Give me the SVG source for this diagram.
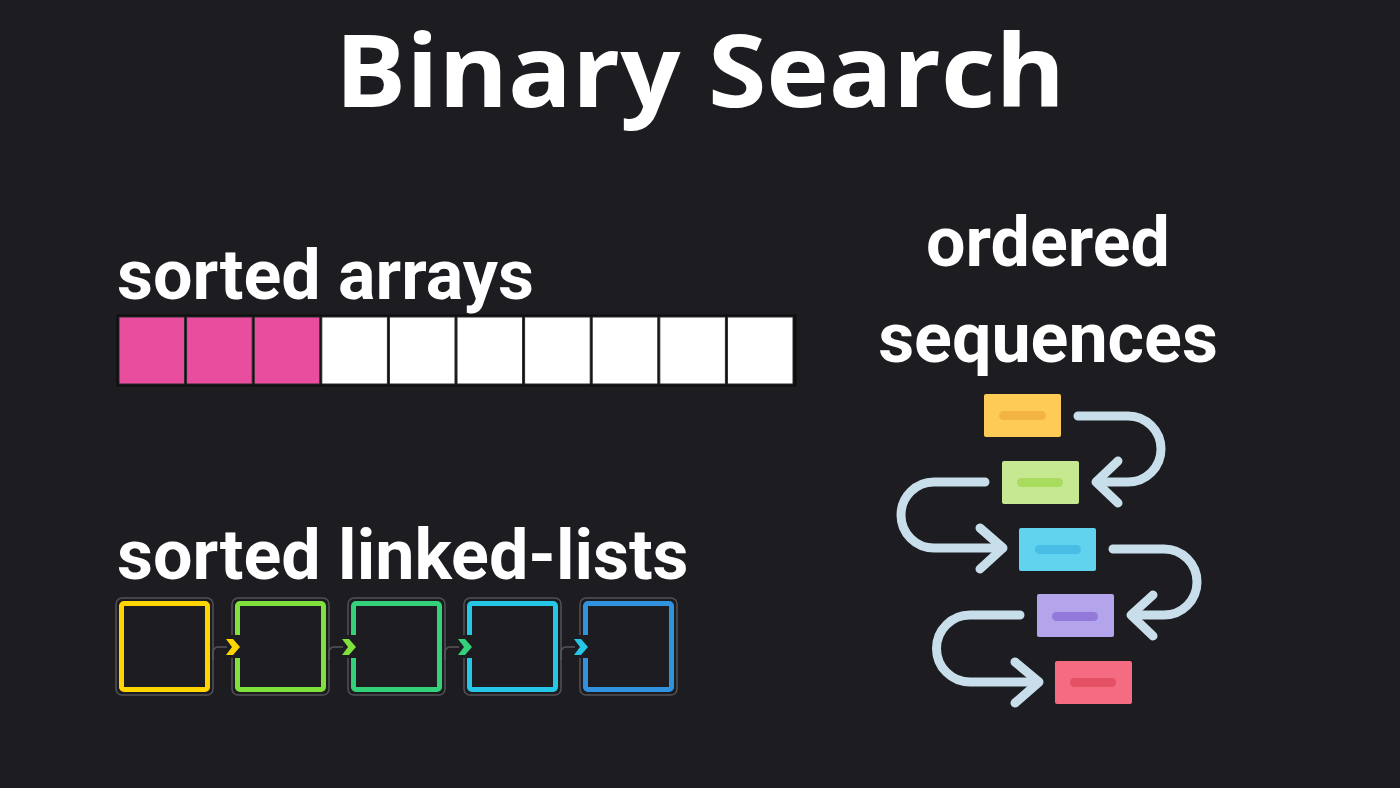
<svg xmlns="http://www.w3.org/2000/svg" width="1400" height="788" viewBox="0 0 1400 788">
<defs>
<style>
.title{font-family:"Open Sans","Liberation Sans",sans-serif;font-weight:700;fill:#fff}
.lbl{font-family:Roboto,"Liberation Sans",sans-serif;font-weight:700;font-size:70px;fill:#fff}
.cell{stroke:#2a2a2a;stroke-width:1}
.pink{fill:#e84e9d}
.white{fill:#ffffff}
.frame{fill:none;stroke:#505056;stroke-width:1.5}
.sq{fill:#1c1c21;stroke-width:5}
.gap{fill:#1c1c21}
.link{fill:none;stroke:#55555b;stroke-width:1.5}
.flow{fill:none;stroke:#c8dfeb;stroke-width:9;stroke-linecap:round;stroke-linejoin:round}
</style>
</defs>
<rect x="0" y="0" width="1400" height="788" fill="#1c1c21"/>
<g id="title"><text class="title" x="700" y="107" font-size="100" text-anchor="middle" textLength="730" lengthAdjust="spacingAndGlyphs">Binary Search</text></g>
<g id="label-arrays"><text class="lbl" x="117" y="299">sorted arrays</text></g>
<g id="label-lists"><text class="lbl" x="117" y="579">sorted linked-lists</text></g>
<g id="label-seq"><text class="lbl" x="1048" y="266" text-anchor="middle">ordered</text><text class="lbl" x="1048" y="362" text-anchor="middle">sequences</text></g>
<g id="array">
<rect x="116.5" y="314.5" width="680" height="72" fill="#0e0e10"/>
<rect class="cell pink" x="119" y="317" width="65.6" height="67"/>
<rect class="cell pink" x="186.6" y="317" width="65.6" height="67"/>
<rect class="cell pink" x="254.2" y="317" width="65.6" height="67"/>
<rect class="cell white" x="321.8" y="317" width="65.6" height="67"/>
<rect class="cell white" x="389.4" y="317" width="65.6" height="67"/>
<rect class="cell white" x="457" y="317" width="65.6" height="67"/>
<rect class="cell white" x="524.6" y="317" width="65.6" height="67"/>
<rect class="cell white" x="592.2" y="317" width="65.6" height="67"/>
<rect class="cell white" x="659.8" y="317" width="65.6" height="67"/>
<rect class="cell white" x="727.4" y="317" width="65.6" height="67"/>
</g>
<g id="list-node-1"><rect class="frame" x="116" y="598" width="97" height="97" rx="6"/><rect class="sq" x="121.5" y="603.5" width="86" height="86" rx="2.5" stroke="#ffd500"/></g>
<g id="list-node-2"><rect class="frame" x="232" y="598" width="97" height="97" rx="6"/><rect class="sq" x="237.5" y="603.5" width="86" height="86" rx="2.5" stroke="#80e03c"/><rect class="gap" x="229" y="635" width="12" height="23"/></g>
<g id="list-node-3"><rect class="frame" x="348" y="598" width="97" height="97" rx="6"/><rect class="sq" x="353.5" y="603.5" width="86" height="86" rx="2.5" stroke="#33d27a"/><rect class="gap" x="345" y="635" width="12" height="23"/></g>
<g id="list-node-4"><rect class="frame" x="464" y="598" width="97" height="97" rx="6"/><rect class="sq" x="469.5" y="603.5" width="86" height="86" rx="2.5" stroke="#25c6e6"/><rect class="gap" x="461" y="635" width="12" height="23"/></g>
<g id="list-node-5"><rect class="frame" x="580" y="598" width="97" height="97" rx="6"/><rect class="sq" x="585.5" y="603.5" width="86" height="86" rx="2.5" stroke="#3193e0"/><rect class="gap" x="577" y="635" width="12" height="23"/></g>
<g id="seq-node-1"><rect x="984" y="394" width="77" height="43" rx="2" fill="#ffcb57"/><rect x="999" y="411" width="47" height="9" rx="4.5" fill="#f2b442"/></g>
<g id="seq-node-2"><rect x="1002" y="461" width="77" height="43" rx="2" fill="#c6e891"/><rect x="1017" y="478" width="46" height="9" rx="4.5" fill="#a9dc5e"/></g>
<g id="seq-node-3"><rect x="1019" y="528" width="77" height="43" rx="2" fill="#62d3ef"/><rect x="1035" y="545" width="46" height="9" rx="4.5" fill="#48bde6"/></g>
<g id="seq-node-4"><rect x="1037" y="594" width="77" height="43" rx="2" fill="#b3a4ec"/><rect x="1052" y="612" width="46" height="9" rx="4.5" fill="#9279da"/></g>
<g id="seq-node-5"><rect x="1055" y="661" width="77" height="43" rx="2" fill="#f56b82"/><rect x="1070" y="678" width="46" height="9" rx="4.5" fill="#e45064"/></g>
<g id="connectors">
<path class="link" d="M213,660 V652 A5,5 0 0 1 218,647 H227"/>
<path class="link" d="M329,660 V652 A5,5 0 0 1 334,647 H343"/>
<path class="link" d="M445,660 V652 A5,5 0 0 1 450,647 H459"/>
<path class="link" d="M561,660 V652 A5,5 0 0 1 566,647 H575"/>
<polygon points="226,639 233,639 240,647 233,655 226,655 232,647" fill="#ffd500"/>
<polygon points="342,639 349,639 356,647 349,655 342,655 348,647" fill="#80e03c"/>
<polygon points="458,639 465,639 472,647 465,655 458,655 464,647" fill="#33d27a"/>
<polygon points="574,639 581,639 588,647 581,655 574,655 580,647" fill="#25c6e6"/>
<path class="flow" d="M1078,416 H1128 A33,33 0 0 1 1128,482 H1097"/>
<path class="flow" d="M1118,461 L1096,482 L1118,503"/>
<path class="flow" d="M985,482 H934 A33,33 0 0 0 934,548 H1002"/>
<path class="flow" d="M980,528 L1003,548 L980,569"/>
<path class="flow" d="M1113,549 H1164 A33,33 0 0 1 1164,615 H1132"/>
<path class="flow" d="M1153,595 L1131,615 L1153,636"/>
<path class="flow" d="M1020,615 H970 A33.5,33.5 0 0 0 970,682 H1038"/>
<path class="flow" d="M1015,662 L1039,682 L1015,703"/>
</g>
</svg>
